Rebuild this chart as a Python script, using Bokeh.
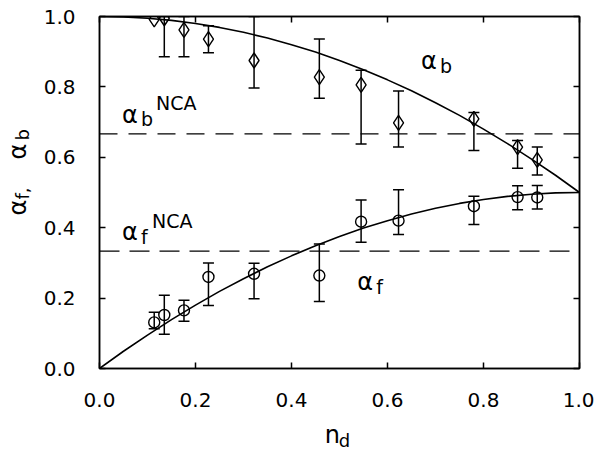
import math
from bokeh.plotting import figure
from bokeh.layouts import row, column
from bokeh.models import Label, Span, LinearAxis, FixedTicker, NumeralTickFormatter, ColumnDataSource
from bokeh.embed import file_html
from bokeh.resources import INLINE

# ---- data ----
nd = [0.114, 0.135, 0.176, 0.227, 0.322, 0.458, 0.545, 0.623, 0.780, 0.871, 0.912]

alpha_b = [0.992, 0.995, 0.962, 0.936, 0.875, 0.828, 0.806, 0.698, 0.709, 0.629, 0.593]
alpha_b_hi = [float("nan"), 1.0, 1.0, 0.974, 1.0, 0.936, 0.847, 0.788, 0.727, 0.648, 0.629]
alpha_b_lo = [float("nan"), 0.886, 0.886, 0.897, 0.797, 0.768, 0.638, 0.629, 0.619, 0.569, 0.550]

alpha_f = [0.131, 0.152, 0.165, 0.260, 0.269, 0.264, 0.417, 0.420, 0.461, 0.487, 0.486]
alpha_f_hi = [0.160, 0.208, 0.194, 0.300, 0.299, 0.354, 0.479, 0.508, 0.489, 0.519, 0.520]
alpha_f_lo = [0.113, 0.097, 0.134, 0.179, 0.198, 0.190, 0.359, 0.381, 0.409, 0.451, 0.453]

curve_nd = [0.00, 0.05, 0.10, 0.15, 0.20, 0.25, 0.30, 0.35, 0.40, 0.45, 0.50,
            0.55, 0.60, 0.65, 0.70, 0.75, 0.80, 0.85, 0.90, 0.95, 1.00]
curve_b = [1.000, 0.999, 0.995, 0.989, 0.980, 0.969, 0.955, 0.939, 0.920, 0.899, 0.875,
           0.849, 0.820, 0.789, 0.755, 0.719, 0.680, 0.639, 0.595, 0.549, 0.500]
curve_f = [0.000, 0.049, 0.095, 0.139, 0.180, 0.219, 0.255, 0.289, 0.320, 0.349, 0.375,
           0.399, 0.420, 0.439, 0.455, 0.469, 0.480, 0.489, 0.495, 0.499, 0.500]

nca_b = 2 / 3
nca_f = 1 / 3

x_ticks = [0.0, 0.2, 0.4, 0.6, 0.8, 1.0]
y_ticks = [0.0, 0.2, 0.4, 0.6, 0.8, 1.0]

FONT = "DejaVu Sans"
SHIFT = 7  # compensates the renderer's baseline placement

YLAB_W = 40
MAIN_W = 554
MAIN_H = 420
XLAB_H = 31

p = figure(width=MAIN_W, height=MAIN_H, x_range=(0, 1), y_range=(0, 1),
           output_backend="svg", toolbar_location=None,
           min_border_left=98 - YLAB_W, min_border_right=15, min_border_top=16, min_border_bottom=52)
p.grid.visible = False
p.outline_line_color = "black"
p.outline_line_width = 1.5
p.background_fill_color = "white"
p.border_fill_color = "white"


def style_axis(ax, ticks, labels=True):
    ax.ticker = FixedTicker(ticks=ticks)
    ax.formatter = NumeralTickFormatter(format="0.0")
    ax.major_tick_in = 6
    ax.major_tick_out = 0
    ax.minor_tick_line_color = None
    ax.axis_line_width = 1.5
    ax.major_tick_line_width = 1.5
    ax.axis_line_color = "black"
    ax.major_tick_line_color = "black"
    if labels:
        ax.major_label_text_font = FONT
        ax.major_label_text_font_size = "20px"
        ax.major_label_text_color = "black"
        ax.major_label_standoff = 24
    else:
        ax.major_label_text_color = None
        ax.major_label_text_font_size = "1px"
        ax.major_label_standoff = 0


style_axis(p.xaxis[0], x_ticks)
style_axis(p.yaxis[0], y_ticks)

top = LinearAxis()
right = LinearAxis()
p.add_layout(top, "above")
p.add_layout(right, "right")
style_axis(top, x_ticks, labels=False)
style_axis(right, y_ticks, labels=False)

# dashed NCA lines
p.add_layout(Span(location=nca_b, dimension="width", line_color="black",
                  line_width=1.2, line_dash="18 11"))
p.add_layout(Span(location=nca_f, dimension="width", line_color="black",
                  line_width=1.4, line_dash="20 10"))

# model curves
p.line(curve_nd, curve_b, line_color="black", line_width=1.6)
p.line(curve_nd, curve_f, line_color="black", line_width=1.6)

# error bars
src = ColumnDataSource(dict(nd=nd, ab=alpha_b, abh=alpha_b_hi, abl=alpha_b_lo,
                            af=alpha_f, afh=alpha_f_hi, afl=alpha_f_lo))
for lo, hi in (("abl", "abh"), ("afl", "afh")):
    p.segment(x0="nd", y0=lo, x1="nd", y1=hi, source=src, line_color="black", line_width=1.5)
    p.scatter(x="nd", y=lo, source=src, marker="dash", size=11, line_color="black", line_width=1.5)
    p.scatter(x="nd", y=hi, source=src, marker="dash", size=11, line_color="black", line_width=1.5)

p.scatter(x="nd", y="ab", source=src, marker="diamond", size=15, fill_color=None,
          line_color="black", line_width=1.4)
p.scatter(x="nd", y="af", source=src, marker="circle", size=11, fill_color=None,
          line_color="black", line_width=1.4)


def lab(fig, x, y, text, size, dx=0, dy=0, angle=0):
    fig.add_layout(Label(x=x, y=y, text=text, x_offset=dx, y_offset=dy, angle=angle,
                         text_font=FONT, text_font_size=size, text_color="black",
                         text_align="left", text_baseline="alphabetic"))


# alpha_b^NCA
lab(p, 0.047, 0.699, "α", "24px", dy=SHIFT)
lab(p, 0.047, 0.699, "b", "19px", dx=19, dy=-4 + SHIFT)
lab(p, 0.047, 0.699, "NCA", "19px", dx=34, dy=12 + SHIFT)
# alpha_f^NCA
lab(p, 0.047, 0.369, "α", "24px", dy=SHIFT)
lab(p, 0.047, 0.369, "f", "19px", dx=19, dy=-5 + SHIFT)
lab(p, 0.047, 0.369, "NCA", "19px", dx=30, dy=11 + SHIFT)
# alpha_b
lab(p, 0.670, 0.855, "α", "24px", dy=SHIFT)
lab(p, 0.670, 0.855, "b", "19px", dx=19, dy=-5 + SHIFT)
# alpha_f
lab(p, 0.537, 0.227, "α", "24px", dy=SHIFT)
lab(p, 0.537, 0.227, "f", "19px", dx=19, dy=-5 + SHIFT)


def text_panel(w, h):
    f = figure(width=w, height=h, x_range=(0, w), y_range=(0, h),
               x_axis_type=None, y_axis_type=None, output_backend="svg",
               toolbar_location=None, min_border=0)
    f.grid.visible = False
    f.outline_line_color = None
    f.background_fill_color = "white"
    f.border_fill_color = "white"
    return f


# y axis title (rotated), pixel coordinates in its own panel
total_h = MAIN_H + XLAB_H
ylab = text_panel(YLAB_W, total_h)
ang = math.pi / 2
lab(ylab, 24 - SHIFT, total_h - 215, "α", "24px", angle=ang)
lab(ylab, 29 - SHIFT, total_h - 199, "f,", "18px", angle=ang)
lab(ylab, 24 - SHIFT, total_h - 159, "α", "24px", angle=ang)
lab(ylab, 29 - SHIFT, total_h - 140, "b", "18px", angle=ang)

# x axis title
xlab = text_panel(MAIN_W, XLAB_H)
lab(xlab, 300 - YLAB_W, 10 + SHIFT, "n", "24px")
lab(xlab, 316 - YLAB_W, 4 + SHIFT, "d", "18px")

layout = row(ylab, column(p, xlab))

open("out.html", "w").write(file_html(layout, INLINE))
